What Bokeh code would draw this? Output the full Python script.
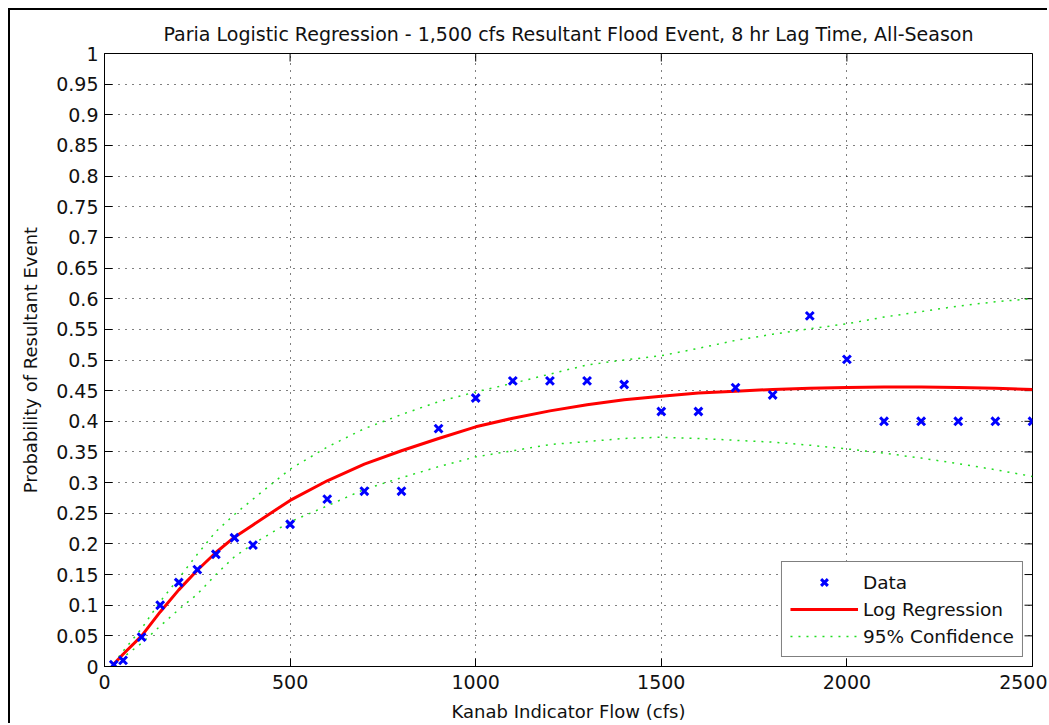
import math
from bokeh.plotting import figure
from bokeh.models import (FixedTicker, Legend, LegendItem,
                          NumeralTickFormatter, Range1d)
from bokeh.embed import file_html
from bokeh.resources import INLINE

# ---- data ----
flow = [25, 50, 100, 150, 200, 250, 300, 350, 400, 500, 600, 700, 800, 900,
        1000, 1100, 1200, 1300, 1400, 1500, 1600, 1700, 1800, 1900, 2000,
        2100, 2200, 2300, 2400, 2500]
prob = [0.003, 0.01, 0.048, 0.1, 0.137, 0.158, 0.183, 0.21, 0.198, 0.232,
        0.273, 0.286, 0.286, 0.388, 0.438, 0.466, 0.466, 0.466, 0.46, 0.416,
        0.416, 0.455, 0.443, 0.572, 0.501, 0.4, 0.4, 0.4, 0.4, 0.4]

fit_x = [25, 50, 100, 150, 200, 250, 300, 350, 400, 500, 600, 700, 800, 900,
         1000, 1100, 1200, 1300, 1400, 1500, 1600, 1700, 1800, 1900, 2000,
         2100, 2200, 2300, 2400, 2500]
fit = [0.004, 0.02, 0.05, 0.089, 0.125, 0.157, 0.186, 0.211, 0.231, 0.271,
       0.303, 0.33, 0.352, 0.372, 0.391, 0.405, 0.417, 0.427, 0.435, 0.441,
       0.446, 0.449, 0.452, 0.454, 0.455, 0.456, 0.456, 0.455, 0.454, 0.452]
upper = [0.005, 0.025, 0.062, 0.106, 0.144, 0.183, 0.22, 0.248, 0.273, 0.322,
         0.358, 0.388, 0.411, 0.432, 0.448, 0.462, 0.477, 0.492, 0.5, 0.507,
         0.519, 0.532, 0.542, 0.551, 0.559, 0.57, 0.579, 0.588, 0.595, 0.6]
lower = [0.003, 0.015, 0.038, 0.066, 0.093, 0.118, 0.15, 0.179, 0.2, 0.236,
         0.262, 0.289, 0.308, 0.326, 0.342, 0.352, 0.362, 0.367, 0.372, 0.374,
         0.372, 0.369, 0.366, 0.361, 0.355, 0.348, 0.34, 0.331, 0.321, 0.31]

x_ticks = [0, 500, 1000, 1500, 2000, 2500]
x_tick_labels = ["0", "500", "1000", "1500", "2000", "2500"]
y_ticks = [0, 0.05, 0.1, 0.15, 0.2, 0.25, 0.3, 0.35, 0.4, 0.45, 0.5, 0.55,
           0.6, 0.65, 0.7, 0.75, 0.8, 0.85, 0.9, 0.95, 1]
y_tick_labels = ["0", "0.05", "0.1", "0.15", "0.2", "0.25", "0.3", "0.35",
                 "0.4", "0.45", "0.5", "0.55", "0.6", "0.65", "0.7", "0.75",
                 "0.8", "0.85", "0.9", "0.95", "1"]
X_MIN, X_MAX = 0, 2500
Y_MIN, Y_MAX = 0, 1

FONT = "DejaVu Sans"
TXT = "#111111"

p = figure(width=1039, height=715, output_backend="svg", toolbar_location=None,
           x_range=Range1d(X_MIN, X_MAX), y_range=Range1d(Y_MIN, Y_MAX),
           min_border_left=94, min_border_right=17, min_border_top=43,
           min_border_bottom=59,
           title="Paria Logistic Regression - 1,500 cfs Resultant Flood Event, 8 hr Lag Time, All-Season")
p.styles = {"margin-left": "8px", "margin-top": "8px",
            "border-left": "2px solid black", "border-top": "2px solid black"}

p.title.text_font = FONT
p.title.text_font_size = "19px"
p.title.text_font_style = "normal"
p.title.text_color = TXT
p.title.align = "center"
p.title.standoff = 17

p.background_fill_color = "white"
p.border_fill_color = "white"
p.outline_line_color = "black"
p.outline_line_width = 1

xb = p.below[0]
yl = p.left[0]
xb.ticker = FixedTicker(ticks=x_ticks)
xb.major_label_overrides = dict(zip(x_ticks, x_tick_labels))
yl.ticker = FixedTicker(ticks=y_ticks)
yl.formatter = NumeralTickFormatter(format="0.[00]")
yl.major_label_overrides = dict(zip(y_ticks, y_tick_labels))

for ax in (xb, yl):
    ax.axis_line_color = "black"
    ax.major_tick_line_color = "black"
    ax.major_tick_in = 8
    ax.major_tick_out = 0
    ax.minor_tick_line_color = None
    ax.major_label_text_font = FONT
    ax.major_label_text_font_size = "19px"
    ax.major_label_text_color = TXT
    ax.axis_label_text_font = FONT
    ax.axis_label_text_font_size = "18px"
    ax.axis_label_text_font_style = "normal"
    ax.axis_label_text_color = TXT

xb.axis_label = "Kanab Indicator Flow (cfs)"
xb.major_label_standoff = 8
xb.axis_label_standoff = 9
yl.axis_label = "Probability of Resultant Event"
yl.major_label_standoff = 6
yl.axis_label_standoff = 12

p.xgrid.ticker = FixedTicker(ticks=x_ticks)
p.ygrid.ticker = FixedTicker(ticks=y_ticks)
for g in (p.xgrid, p.ygrid):
    g.grid_line_color = "black"
    g.grid_line_width = 1
    g.grid_line_dash = "1 6"

# inward ticks on the top and right edges of the box (MATLAB style)
p.ray(x=x_ticks, y=[Y_MAX] * len(x_ticks), length=8, length_units="screen",
      angle=-math.pi / 2, line_color="black", line_width=1)
p.ray(x=[X_MAX] * len(y_ticks), y=y_ticks, length=8, length_units="screen",
      angle=math.pi, line_color="black", line_width=1)

GREEN = "#22dd22"
r_up = p.line(fit_x, upper, line_color=GREEN, line_width=1.5, line_dash="2 6")
r_lo = p.line(fit_x, lower, line_color=GREEN, line_width=1.5, line_dash="2 6")
r_fit = p.line(fit_x, fit, line_color="#ff0000", line_width=3)
r_data = p.scatter(flow, prob, marker="x", size=11, line_width=3,
                   line_color="#0000ff")

legend = Legend(items=[LegendItem(label="Data", renderers=[r_data]),
                       LegendItem(label="Log Regression", renderers=[r_fit]),
                       LegendItem(label="95% Confidence", renderers=[r_up])],
                location="bottom_right", margin=9, padding=8, spacing=3,
                glyph_width=68, glyph_height=24, label_height=24,
                label_standoff=5,
                label_text_font=FONT, label_text_font_size="18.5px",
                label_text_color=TXT,
                border_line_color="black", border_line_width=1,
                background_fill_color="white", background_fill_alpha=1)
p.add_layout(legend)

open("out.html", "w").write(file_html(p, INLINE))
